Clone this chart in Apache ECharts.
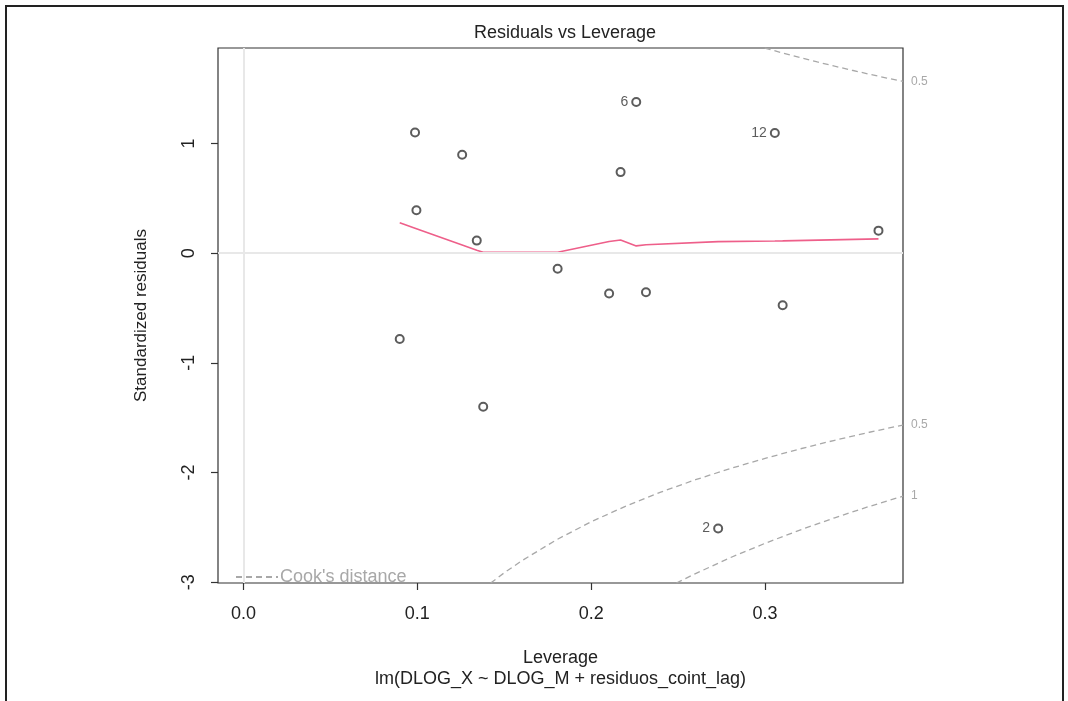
<!DOCTYPE html>
<html>
<head>
<meta charset="utf-8">
<title>Residuals vs Leverage</title>
<script src="https://cdn.jsdelivr.net/npm/echarts@6/dist/echarts.min.js"></script>
<style>
  html, body { margin: 0; padding: 0; background: #fff; }
  #wrap { position: relative; width: 1068px; height: 701px; overflow: hidden; }
  #frame { position: absolute; left: 5px; top: 5px; width: 1059px; height: 720px;
           border: 2px solid #222; box-sizing: border-box; pointer-events: none; }
  #chart { position: absolute; left: 0; top: 0; width: 1068px; height: 701px; }
</style>
</head>
<body>
<div id="wrap">
  <div id="chart"></div>
  <div id="frame"></div>
</div>
<script>
// Leverage (hat values) and standardized residuals, ordered by leverage
const leverage  = [0.0899, 0.0987, 0.0995, 0.1258, 0.1342, 0.1379, 0.1807, 0.2103,
                   0.2169, 0.2259, 0.2315, 0.2730, 0.3056, 0.3101, 0.3652];
const stdResid  = [-0.783, 1.101, 0.392, 0.898, 0.115, -1.401, -0.141, -0.367,
                   0.740, 1.379, -0.356, -2.511, 1.096, -0.475, 0.206];
// Observation ids printed next to the most extreme points
const idLabels  = ['', '', '', '', '', '', '', '', '', '6', '', '2', '12', '', ''];

// Smoothed residual trend evaluated at each leverage value
const smoothFit = [0.277, 0.227, 0.225, 0.075, 0.028, 0.009, 0.009, 0.107,
                   0.121, 0.067, 0.078, 0.106, 0.112, 0.113, 0.131];

// Cook's distance contours (leverage, residual)
const cookHalfUpperLev = [0.2998, 0.31, 0.32, 0.33, 0.34, 0.35, 0.36, 0.37, 0.3793];
const cookHalfUpperRes = [1.872, 1.827, 1.785, 1.745, 1.706, 1.669, 1.633, 1.598, 1.567];
const cookHalfLowerLev = [0.1422, 0.15, 0.16, 0.18, 0.20, 0.22, 0.24, 0.26, 0.28, 0.30, 0.32, 0.34, 0.36, 0.3793];
const cookHalfLowerRes = [-3.008, -2.915, -2.806, -2.614, -2.449, -2.306, -2.179, -2.066, -1.964, -1.871, -1.785, -1.706, -1.633, -1.567];
const cookOneLowerLev  = [0.249, 0.26, 0.28, 0.30, 0.32, 0.34, 0.36, 0.3793];
const cookOneLowerRes  = [-3.008, -2.922, -2.777, -2.646, -2.525, -2.413, -2.309, -2.216];

// Axis ranges and tick labels
const xRange = [-0.0146, 0.3793];
const yRange = [-3.008, 1.872];
const xTicks = [0.0, 0.1, 0.2, 0.3];
const yTicks = [-3, -2, -1, 0, 1];

const zip = (a, b) => a.map((v, i) => [v, b[i]]);
const FONT = '"Liberation Sans", Arial, sans-serif';
const COOK = "Cook's distance";
const GREY = '#a8a8a8';

const cookStyle = { color: GREY, width: 1.3, type: [6, 4] };
function cookSeries(lev, res, tag) {
  return {
    name: COOK, type: 'line', data: zip(lev, res), symbol: 'none',
    itemStyle: { color: GREY }, lineStyle: cookStyle, silent: true, z: 1,
    endLabel: { show: true, formatter: tag, color: GREY, fontSize: 12,
                fontFamily: FONT, distance: 8 }
  };
}

const chart = echarts.init(document.getElementById('chart'), null, { renderer: 'canvas' });
chart.setOption({
  animation: false,
  backgroundColor: '#fff',
  title: {
    text: 'Residuals vs Leverage', left: 560, top: 19, textAlign: 'center',
    textStyle: { fontFamily: FONT, fontSize: 18, fontWeight: 'normal', color: '#222' }
  },
  grid: { left: 218, right: 165, top: 48, bottom: 118, show: true,
          borderColor: '#333', borderWidth: 1.2, backgroundColor: 'transparent' },
  legend: {
    data: [COOK], left: 230, top: 563, itemWidth: 42, itemHeight: 10, itemGap: 4,
    itemStyle: { opacity: 0 },
    textStyle: { color: GREY, fontSize: 18, fontFamily: FONT, padding: [0, 0, 0, -3] },
    selectedMode: false
  },
  xAxis: {
    type: 'value', min: xRange[0], max: xRange[1],
    name: 'Leverage\nlm(DLOG_X ~ DLOG_M + residuos_coint_lag)',
    nameLocation: 'middle', nameGap: 65,
    nameTextStyle: { fontFamily: FONT, fontSize: 18, color: '#222', lineHeight: 21 },
    axisLine: { show: false, onZero: false },
    axisTick: { show: true, length: 7, customValues: xTicks, lineStyle: { color: '#333', width: 1.2 } },
    axisLabel: { customValues: xTicks, formatter: v => v.toFixed(1), margin: 22,
                 fontFamily: FONT, fontSize: 18, color: '#222' },
    splitLine: { show: false }
  },
  yAxis: {
    type: 'value', min: yRange[0], max: yRange[1],
    name: 'Standardized residuals', nameLocation: 'middle', nameGap: 68,
    nameTextStyle: { fontFamily: FONT, fontSize: 17, color: '#222' },
    axisLine: { show: false, onZero: false },
    axisTick: { show: true, length: 7, customValues: yTicks, lineStyle: { color: '#333', width: 1.2 } },
    axisLabel: { customValues: yTicks, rotate: 90, margin: 20,
                 fontFamily: FONT, fontSize: 18, color: '#222' },
    splitLine: { show: false }
  },
  series: [
    {
      name: 'smooth', type: 'line', data: zip(leverage, smoothFit), symbol: 'none',
      lineStyle: { color: '#ee5f8a', width: 1.6 }, z: 2, silent: true,
      markLine: {
        silent: true, symbol: 'none', label: { show: false },
        lineStyle: { color: '#e8e8e8', width: 2, type: 'solid' },
        data: [{ xAxis: 0 }, { yAxis: 0 }]
      }
    },
    cookSeries(cookHalfUpperLev, cookHalfUpperRes, '0.5'),
    cookSeries(cookHalfLowerLev, cookHalfLowerRes, '0.5'),
    cookSeries(cookOneLowerLev, cookOneLowerRes, '1'),
    {
      name: 'residuals', type: 'scatter', data: zip(leverage, stdResid),
      symbol: 'emptyCircle', symbolSize: 8, z: 3,
      itemStyle: { color: '#333', borderColor: '#333', borderWidth: 1.3 },
      label: {
        show: true, position: 'left', distance: 3,
        formatter: p => idLabels[p.dataIndex],
        fontFamily: FONT, fontSize: 14, color: '#333'
      }
    }
  ]
});
</script>
</body>
</html>
